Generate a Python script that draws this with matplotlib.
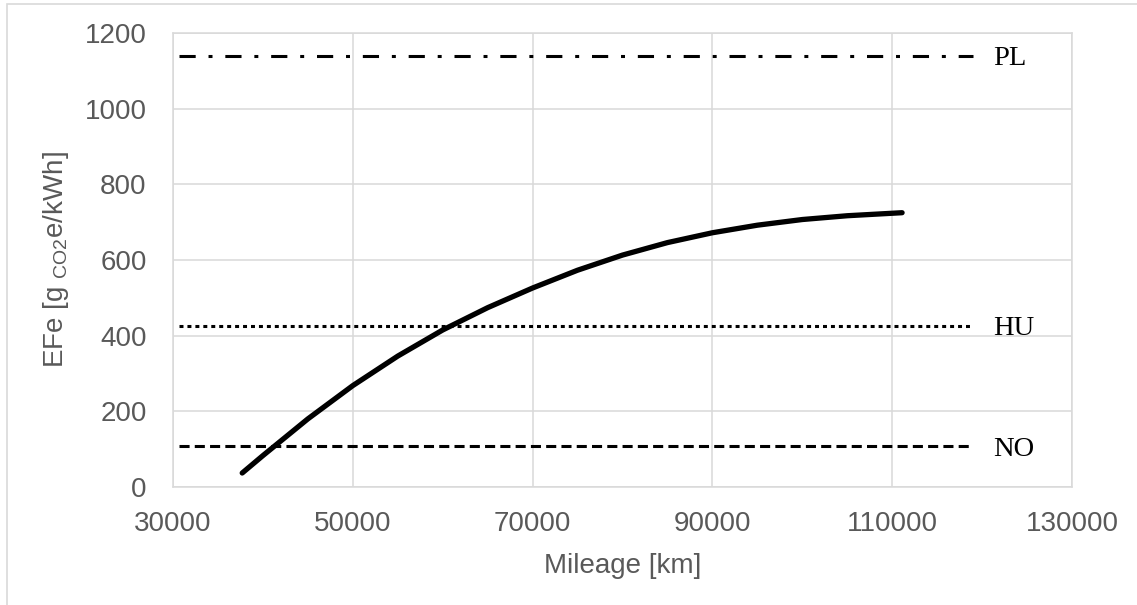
import matplotlib.pyplot as plt
from matplotlib.patches import Rectangle

# mileage curve
mileage = [37700, 40000, 45000, 50000, 55000, 60000, 65000, 70000, 75000,
           80000, 85000, 90000, 95000, 100000, 105000, 111100]
efe = [37, 83, 180, 268, 346, 415, 474, 526, 573,
       613, 646, 672, 692, 707, 717, 725]

# country reference levels
countries = ['PL', 'HU', 'NO']
levels = [1140, 426, 108]
level_x = [30700, 119000]

xticks = [30000, 50000, 70000, 90000, 110000, 130000]
yticks = [0, 200, 400, 600, 800, 1000, 1200]

plt.rcParams['font.family'] = ['Liberation Sans', 'DejaVu Sans']
plt.rcParams['mathtext.fontset'] = 'custom'
plt.rcParams['mathtext.rm'] = 'Liberation Sans'

grey = '#595959'
gridc = '#d9d9d9'

fig = plt.figure(figsize=(11.37, 6.05), dpi=100)
ax = fig.add_axes([173/1137, 118/605, (1072-173)/1137, (487-33)/605])

styles = {
    'PL': dict(dashes=(5.3, 4.2, 1.3, 4.2)),
    'HU': dict(dashes=(1.3, 1.3)),
    'NO': dict(dashes=(3.3, 1.7)),
}
for c, v in zip(countries, levels):
    ax.plot(level_x, [v, v], color='black', lw=2.2, dash_capstyle='butt', **styles[c])
    ax.text(121200, v - 8, c, family='Liberation Serif', fontsize=20.5,
            ha='left', va='center', color='black')

ax.plot(mileage, efe, color='black', lw=3.8, solid_capstyle='round',
        solid_joinstyle='round')

ax.set_xlim(30000, 130000)
ax.set_ylim(0, 1200)
ax.set_xticks(xticks)
ax.set_yticks(yticks)
ax.grid(True, color=gridc, lw=1.1)
ax.set_axisbelow(True)
for s in ax.spines.values():
    s.set_color(gridc)
    s.set_linewidth(1.1)
ax.tick_params(length=0, labelsize=20, labelcolor=grey)
ax.tick_params(axis='x', pad=17)
ax.tick_params(axis='y', pad=19)

ax.set_xlabel('Mileage [km]', fontsize=20, color=grey, labelpad=12)
ax.set_ylabel(r'EFe [g $_{\mathregular{CO2}}$e/kWh]', fontsize=20, color=grey, labelpad=10)

# outer chart border
fig.patches.append(Rectangle((7/1137, -0.02), 1.1, (605-4)/605 + 0.02,
                             transform=fig.transFigure, fill=False,
                             edgecolor=gridc, lw=1.2))

plt.savefig('out.png', dpi=100)
